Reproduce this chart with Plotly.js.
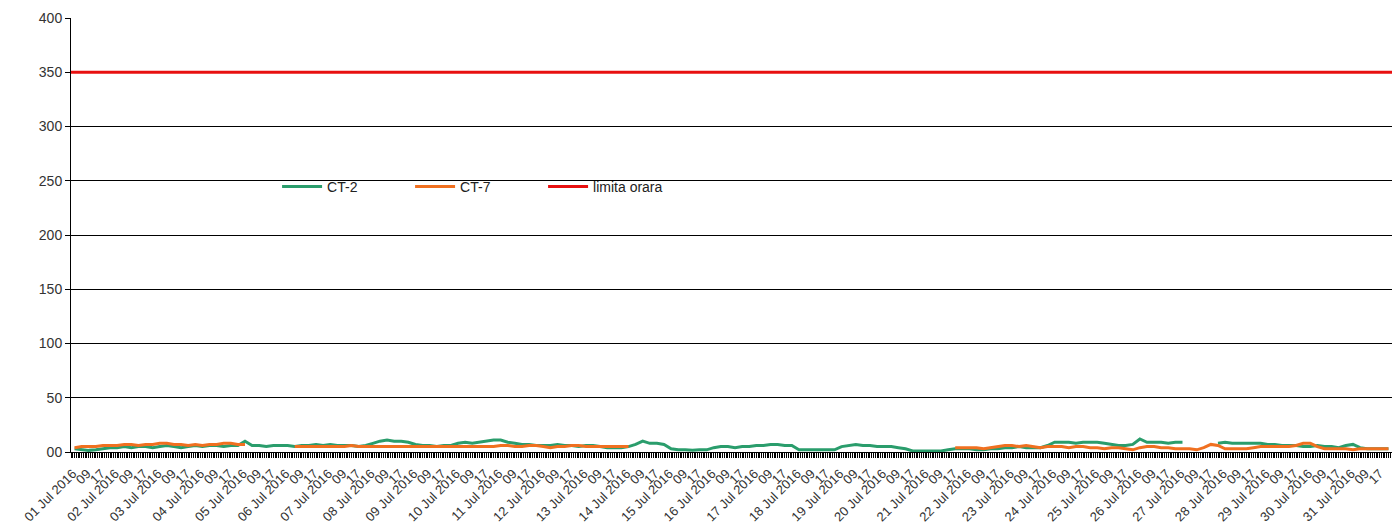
<!DOCTYPE html>
<html>
<head>
<meta charset="utf-8">
<script src="https://cdn.plot.ly/plotly-3.0.1.min.js"></script>
<style>html,body{margin:0;padding:0;background:#fff;}#chart{width:1392px;height:529px;}</style>
</head>
<body>
<div id="chart"></div>
<script>
// 4-hour samples, 6 per day, 01 Jul 2016 .. 31 Jul 2016
const seriesStart = '2016-07-01 02:00';
const stepHours = 4;
const ct2 = [
  3, 2, 1.5, 2, 3, 4,
  4, 5, 4, 5, 5, 4,
  5, 6, 5, 4, 5, 6,
  5, 6, 6, 5, 6, 6,
  10, 6, 6, 5, 6, 6,
  6, 5, 6, 6, 7, 6,
  7, 6, 6, 6, 5, 6,
  8, 10, 11, 10, 10, 9,
  7, 6, 6, 5, 6, 6,
  8, 9, 8, 9, 10, 11,
  11, 9, 8, 7, 7, 6,
  6, 6, 7, 6, 6, 5,
  6, 6, 5, 4, 4, 4,
  5, 7, 10, 8, 8, 7,
  3, 2, 2, 1.5, 2, 2,
  4, 5, 5, 4, 5, 5,
  6, 6, 7, 7, 6, 6,
  2, 2, 1.5, 2, 2, 2,
  5, 6, 7, 6, 6, 5,
  5, 5, 4, 3, 1, 1,
  0.5, 0.5, 1, 2, 3, 3,
  3, 2, 2, 3, 3, 4,
  4, 5, 4, 4, 4, 6,
  9, 9, 9, 8, 9, 9,
  9, 8, 7, 6, 6, 7,
  12, 9, 9, 9, 8, 9,
  9, null, null, null, null, 8,
  9, 8, 8, 8, 8, 8,
  7, 7, 6, 6, 6, 5,
  5, 6, 5, 5, 4, 6,
  7, 4, 3, 3, 3, 3
];
const ct7 = [
  4, 5, 5, 5, 6, 6,
  6, 7, 7, 6, 7, 7,
  8, 8, 7, 7, 6, 7,
  6, 7, 7, 8, 8, 7,
  7, null, null, null, null, null,
  null, 5, 5, 5, 5, 5,
  5, 5, 5, 6, 5, 5,
  5, 5, 5, 5, 5, 5,
  5, 5, 5, 5, 5, 5,
  5, 5, 5, 5, 5, 5,
  6, 6, 5, 5, 6, 6,
  5, 4, 5, 5, 6, 6,
  5, 5, 5, 5, 5, 5,
  5, null, null, null, null, null,
  null, null, null, null, null, null,
  null, null, null, null, null, null,
  null, null, null, null, null, null,
  null, null, null, null, null, null,
  null, null, null, null, null, null,
  null, null, null, null, null, null,
  null, null, null, null, 4, 4,
  4, 4, 3, 4, 5, 6,
  6, 5, 6, 5, 4, 5,
  5, 5, 4, 5, 5, 4,
  4, 3, 4, 4, 3, 2,
  4, 5, 5, 4, 4, 3,
  3, 3, 2, 4, 7, 6,
  3, 3, 3, 3, 4, 5,
  5, 5, 5, 5, 6, 8,
  8, 5, 3, 3, 3, 3,
  2, 3, 3, 3, 3, 3
];
const limitDates = ['2016-07-01 00:00', '2016-08-01 00:00'];
const limitValues = [350, 350];
const dayLabels = ['01 Jul 2016','02 Jul 2016','03 Jul 2016','04 Jul 2016','05 Jul 2016','06 Jul 2016','07 Jul 2016','08 Jul 2016','09 Jul 2016','10 Jul 2016','11 Jul 2016','12 Jul 2016','13 Jul 2016','14 Jul 2016','15 Jul 2016','16 Jul 2016','17 Jul 2016','18 Jul 2016','19 Jul 2016','20 Jul 2016','21 Jul 2016','22 Jul 2016','23 Jul 2016','24 Jul 2016','25 Jul 2016','26 Jul 2016','27 Jul 2016','28 Jul 2016','29 Jul 2016','30 Jul 2016','31 Jul 2016'];
const hourLabels = ['09', '17'];
const yTickVals = [0, 50, 100, 150, 200, 250, 300, 350, 400];
const yTickText = ['00', '50', '100', '150', '200', '250', '300', '350', '400'];

function pad(n){ return (n < 10 ? '0' : '') + n; }
function fmt(ms){
  const d = new Date(ms);
  return d.getUTCFullYear() + '-' + pad(d.getUTCMonth()+1) + '-' + pad(d.getUTCDate()) + ' ' + pad(d.getUTCHours()) + ':00';
}
const t0 = Date.UTC(2016, 6, 1, 2);
const times = ct2.map((_, i) => fmt(t0 + i * stepHours * 3600000));

const tickvals = [], ticktext = [];
dayLabels.forEach((lab, d) => {
  const base = Date.UTC(2016, 6, 1 + d, 1);
  tickvals.push(fmt(base)); ticktext.push(lab);
  tickvals.push(fmt(base + 8 * 3600000)); ticktext.push(hourLabels[0]);
  tickvals.push(fmt(base + 16 * 3600000)); ticktext.push(hourLabels[1]);
});

const data = [
  {x: times, y: ct2, type: 'scatter', mode: 'lines', name: 'CT-2',
   line: {color: '#2a9d6c', width: 3}, connectgaps: false},
  {x: times, y: ct7, type: 'scatter', mode: 'lines', name: 'CT-7',
   line: {color: '#f07020', width: 3}, connectgaps: false},
  {x: limitDates, y: limitValues, type: 'scatter', mode: 'lines', name: 'limita orara',
   line: {color: '#e81010', width: 3}}
];

const layout = {
  width: 1392, height: 529,
  margin: {l: 71, r: 0, t: 18, b: 77},
  paper_bgcolor: '#fff', plot_bgcolor: '#fff',
  font: {family: 'Liberation Sans, Arial, sans-serif', size: 13, color: '#333'},
  showlegend: true,
  legend: {orientation: 'h', x: 0.156, y: 0.611, xanchor: 'left', yanchor: 'middle',
    font: {size: 14, color: '#222'}, itemwidth: 40, entrywidth: 78, entrywidthmode: 'pixels',
    bgcolor: 'rgba(0,0,0,0)'},
  xaxis: {
    type: 'date',
    range: ['2016-07-01 00:00', '2016-08-01 00:00'],
    tickmode: 'array', tickvals: tickvals, ticktext: ticktext,
    tickangle: -45, ticks: 'outside', ticklen: 5, tickcolor: '#000',
    ticklabelstandoff: 3,
    showgrid: false, showline: true, linecolor: '#000', linewidth: 1,
    tickfont: {size: 13, color: '#333'},
    minor: {dtick: 3600000, tick0: '2016-07-01 00:00', ticks: 'outside', ticklen: 5, tickcolor: '#000', tickwidth: 1, showgrid: false},
    zeroline: false
  },
  yaxis: {
    range: [0, 400],
    tickmode: 'array', tickvals: yTickVals, ticktext: yTickText,
    ticks: 'outside', ticklen: 5, tickcolor: '#000',
    showgrid: true, gridcolor: '#000', gridwidth: 1,
    showline: true, linecolor: '#000', linewidth: 1,
    zeroline: false,
    tickfont: {size: 14, color: '#333'}
  }
};

Plotly.newPlot('chart', data, layout, {displayModeBar: false, staticPlot: true});
</script>
</body>
</html>
